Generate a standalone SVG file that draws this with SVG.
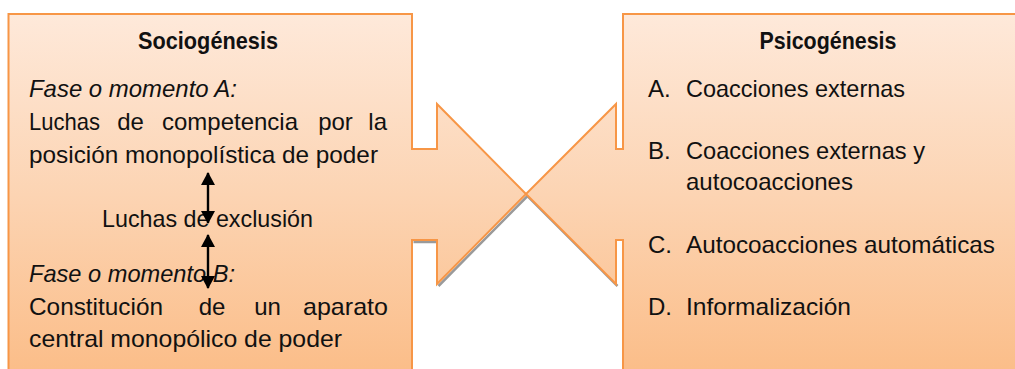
<svg xmlns="http://www.w3.org/2000/svg" width="1015" height="369" viewBox="0 0 1015 369">
<defs>
<linearGradient id="g" gradientUnits="userSpaceOnUse" x1="0" y1="14" x2="0" y2="375">
<stop offset="0" stop-color="#fee9da"/>
<stop offset="0.5" stop-color="#fcd4b3"/>
<stop offset="1" stop-color="#fbbd88"/>
</linearGradient>
<marker id="ah" viewBox="0 0 14 14" refX="12" refY="7" markerWidth="14" markerHeight="14" markerUnits="userSpaceOnUse" orient="auto-start-reverse">
<path d="M0,0 L13,7 L0,14 Z" fill="#000"/>
</marker>
<style>
.shape{fill:url(#g);stroke:#f79646;stroke-width:2}
.shadow{fill:none;stroke:#9a9a9a;stroke-width:2.5}
text{font-family:"Liberation Sans",Arial,sans-serif;font-size:24px;fill:#111}
.b{font-weight:bold}
.i{font-style:italic}
.m{text-anchor:middle}
.e{text-anchor:end}
.dbl{stroke:#000;stroke-width:2.4;fill:none;marker-start:url(#ah);marker-end:url(#ah)}
</style>
</defs>
<g id="shadows" transform="translate(1.5,2)">
<path class="shadow" d="M437,284 L526,194 M412,240 H437"/>
<path class="shadow" d="M526,194 L616,284"/>
</g>
<g id="sociogenesis">
<path class="shape" d="M8.5,14 H412 V149 H437 V104 L526,194 L437,284 V240 H412 V380 H8.5 Z"/>
<text class="b" x="208" y="49" text-anchor="middle" textLength="140" lengthAdjust="spacingAndGlyphs">Sociogénesis</text>
<text class="i" x="29" y="97" textLength="208" lengthAdjust="spacingAndGlyphs">Fase o momento A:</text>
<text x="29" y="130" textLength="71" lengthAdjust="spacingAndGlyphs">Luchas</text>
<text class="m" x="130.5" y="130">de</text>
<text x="162" y="130" textLength="136" lengthAdjust="spacingAndGlyphs">competencia</text>
<text class="m" x="335.5" y="130">por</text>
<text class="e" x="387" y="130">la</text>
<text x="29" y="163" textLength="349" lengthAdjust="spacingAndGlyphs">posición monopolística de poder</text>
<text x="102" y="227" textLength="211" lengthAdjust="spacingAndGlyphs">Luchas de exclusión</text>
<text class="i" x="29" y="282" textLength="206" lengthAdjust="spacingAndGlyphs">Fase o momento B:</text>
<text x="29" y="315" textLength="134" lengthAdjust="spacingAndGlyphs">Constitución</text>
<text class="m" x="212" y="315">de</text>
<text class="m" x="267.5" y="315">un</text>
<text x="303" y="315" textLength="85" lengthAdjust="spacingAndGlyphs">aparato</text>
<text x="29" y="347" textLength="313" lengthAdjust="spacingAndGlyphs">central monopólico de poder</text>
</g>
<g id="psicogenesis">
<path class="shape" d="M623,14 H1025 V380 H623 V240 H616 V284 L526,194 L616,104 V149 H623 Z"/>
<text class="b" x="828" y="49" text-anchor="middle" textLength="137" lengthAdjust="spacingAndGlyphs">Psicogénesis</text>
<text x="648" y="97">A.</text>
<text x="686" y="97" textLength="219" lengthAdjust="spacingAndGlyphs">Coacciones externas</text>
<text x="648" y="159">B.</text>
<text x="686" y="159" textLength="239" lengthAdjust="spacingAndGlyphs">Coacciones externas y</text>
<text x="686" y="190" textLength="167" lengthAdjust="spacingAndGlyphs">autocoacciones</text>
<text x="648" y="253">C.</text>
<text x="686" y="253" textLength="309" lengthAdjust="spacingAndGlyphs">Autocoacciones automáticas</text>
<text x="648" y="315">D.</text>
<text x="686" y="315" textLength="165" lengthAdjust="spacingAndGlyphs">Informalización</text>
</g>
<g id="connectors">
<line class="dbl" x1="208" y1="173" x2="208" y2="223"/>
<line class="dbl" x1="208" y1="235" x2="208" y2="288"/>
</g>
</svg>
